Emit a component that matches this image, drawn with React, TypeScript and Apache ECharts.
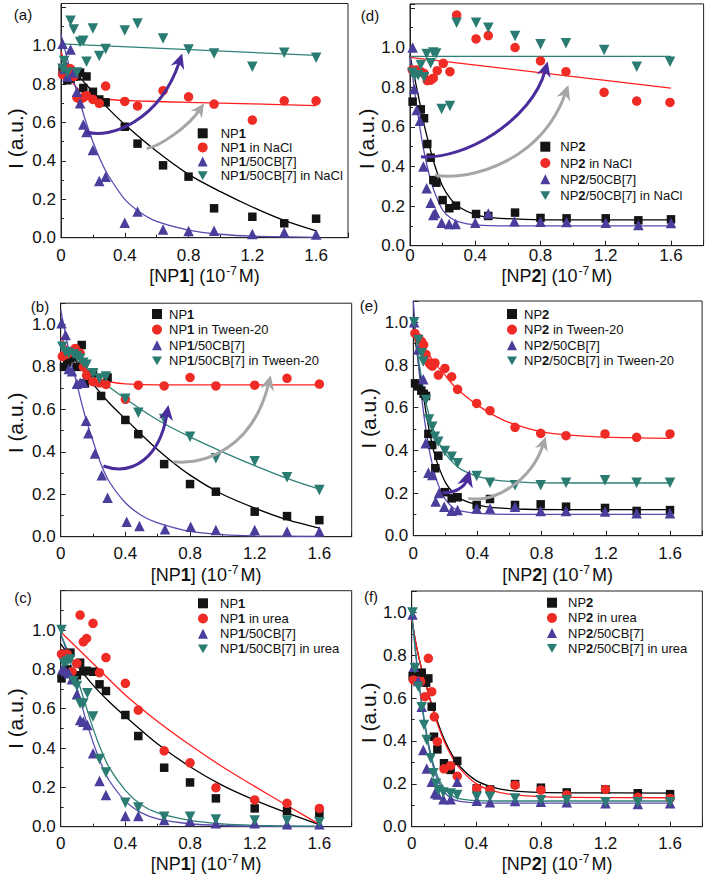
import React, { useEffect, useRef } from 'react';
import * as echarts from 'echarts';

const FONT = '"Liberation Sans", Arial, Helvetica, sans-serif';

// ---------- Panel (a): NP1, NaCl ----------
const aConc = [0.01, 0.02, 0.04, 0.06, 0.08, 0.1, 0.12, 0.14, 0.16, 0.2, 0.24, 0.28, 0.4, 0.48, 0.64, 0.8, 0.96, 1.2, 1.4, 1.6];
const aBlackY = [0.88, 0.87, 0.82, 0.83, 0.84, 0.84, 0.86, 0.78, 0.84, 0.76, 0.72, 0.705, 0.578, 0.49, 0.377, 0.318, 0.153, 0.109, 0.075, 0.099];
const aRedY = [0.85, 0.86, 0.88, 0.88, 0.84, 0.73, 0.72, 0.73, 0.74, 0.72, 0.7, 0.79, 0.71, 0.686, 0.766, 0.734, 0.696, 0.613, 0.713, 0.713];
const aPurpleY = [1.01, 0.88, 0.84, 0.98, 0.86, 0.76, 0.7, 0.59, 0.55, 0.457, 0.295, 0.318, 0.078, 0.137, 0.043, 0.035, 0.036, 0.019, 0.028, 0.017];
const aTealY = [0.88, 0.92, 0.86, 1.13, 1.085, 0.86, 1.02, 1.026, 0.917, 1.09, 0.946, 0.983, 1.08, 1.116, 1.038, 0.981, 0.96, 0.89, 0.964, 0.937];
const aFitBlackX = [0, 0.1, 0.2, 0.3, 0.4, 0.6, 0.8, 1.0, 1.2, 1.4, 1.6];
const aFitBlackY = [0.94, 0.85, 0.76, 0.67, 0.59, 0.45, 0.33, 0.24, 0.16, 0.09, 0.035];
const aFitRedX = [0, 0.04, 0.08, 0.12, 0.16, 0.2, 0.3, 0.5, 0.8, 1.2, 1.6];
const aFitRedY = [0.97, 0.87, 0.8, 0.765, 0.745, 0.735, 0.72, 0.712, 0.705, 0.697, 0.688];
const aFitPurpleX = [0, 0.05, 0.1, 0.15, 0.2, 0.25, 0.3, 0.4, 0.5, 0.6, 0.8, 1.0, 1.2, 1.6];
const aFitPurpleY = [1.06, 0.9, 0.76, 0.62, 0.5, 0.4, 0.32, 0.2, 0.13, 0.085, 0.04, 0.018, 0.008, 0.002];
const aFitTealX = [0, 1.6];
const aFitTealY = [1.01, 0.95];

// ---------- Panel (d): NP2, NaCl ----------
const dBlackX = [0.016, 0.066, 0.086, 0.106, 0.127, 0.143, 0.162, 0.2, 0.241, 0.282, 0.405, 0.48, 0.644, 0.8, 0.96, 1.2, 1.4, 1.6];
const dBlackY = [0.727, 0.688, 0.643, 0.513, 0.444, 0.331, 0.318, 0.23, 0.189, 0.202, 0.16, 0.15, 0.167, 0.14, 0.138, 0.138, 0.128, 0.133];
const dRedX = [0.014, 0.04, 0.066, 0.086, 0.106, 0.127, 0.143, 0.167, 0.204, 0.245, 0.286, 0.405, 0.48, 0.644, 0.8, 0.956, 1.19, 1.39, 1.594];
const dRedY = [0.887, 0.887, 0.878, 0.87, 0.833, 0.835, 0.845, 0.883, 0.92, 0.878, 1.164, 1.043, 1.06, 1.0, 0.932, 0.878, 0.774, 0.73, 0.723];
const dPurpleX = [0.016, 0.025, 0.041, 0.061, 0.082, 0.102, 0.127, 0.143, 0.155, 0.194, 0.24, 0.28, 0.4, 0.48, 0.64, 0.8, 0.96, 1.2, 1.4, 1.6];
const dPurpleY = [1.0, 0.79, 0.685, 0.63, 0.4, 0.29, 0.217, 0.155, 0.165, 0.116, 0.11, 0.11, 0.116, 0.163, 0.123, 0.121, 0.12, 0.116, 0.104, 0.115];
const dTealX = [0.014, 0.03, 0.05, 0.066, 0.086, 0.102, 0.127, 0.143, 0.16, 0.194, 0.245, 0.286, 0.405, 0.48, 0.644, 0.8, 0.956, 1.19, 1.39, 1.594];
const dTealY = [0.873, 0.86, 0.86, 0.912, 0.85, 0.967, 0.92, 0.975, 0.97, 0.69, 0.705, 1.125, 1.125, 1.1, 1.058, 1.016, 1.021, 0.987, 0.903, 0.928];
const dFitBlackX = [0, 0.03, 0.06, 0.09, 0.12, 0.15, 0.2, 0.25, 0.3, 0.4, 0.5, 0.7, 1.0, 1.6];
const dFitBlackY = [0.96, 0.84, 0.72, 0.6, 0.5, 0.41, 0.3, 0.235, 0.195, 0.157, 0.142, 0.133, 0.13, 0.13];
const dFitRedX = [0, 1.6];
const dFitRedY = [0.95, 0.795];
const dFitPurpleX = [0, 0.02, 0.04, 0.06, 0.08, 0.1, 0.13, 0.16, 0.2, 0.25, 0.3, 0.4, 0.6, 1.0, 1.6];
const dFitPurpleY = [0.95, 0.83, 0.71, 0.6, 0.5, 0.42, 0.32, 0.25, 0.18, 0.14, 0.12, 0.105, 0.1, 0.1, 0.1];
const dFitTealX = [0, 1.6];
const dFitTealY = [0.955, 0.955];

// ---------- Panel (b): NP1, Tween-20 ----------
const bBlackX = [0.02, 0.04, 0.06, 0.08, 0.1, 0.13, 0.15, 0.2, 0.25, 0.29, 0.4, 0.48, 0.64, 0.8, 0.96, 1.2, 1.4, 1.6];
const bBlackY = [0.8, 0.82, 0.84, 0.85, 0.8, 0.903, 0.722, 0.77, 0.663, 0.75, 0.55, 0.483, 0.342, 0.248, 0.212, 0.118, 0.097, 0.078];
const bRedX = [0.01, 0.02, 0.04, 0.06, 0.09, 0.12, 0.14, 0.16, 0.2, 0.24, 0.28, 0.4, 0.48, 0.64, 0.8, 0.96, 1.2, 1.4, 1.6];
const bRedY = [0.85, 0.855, 0.86, 0.87, 0.887, 0.865, 0.8, 0.76, 0.73, 0.725, 0.717, 0.647, 0.714, 0.71, 0.75, 0.71, 0.714, 0.746, 0.719];
const bPurpleX = [0.005, 0.03, 0.05, 0.07, 0.1, 0.12, 0.14, 0.157, 0.171, 0.212, 0.254, 0.29, 0.408, 0.487, 0.645, 0.804, 0.96, 1.2, 1.4, 1.6];
const bPurpleY = [1.005, 0.95, 0.79, 0.78, 0.72, 0.725, 0.725, 0.546, 0.487, 0.392, 0.29, 0.184, 0.07, 0.05, 0.035, 0.047, 0.031, 0.031, 0.025, 0.024];
const bTealX = [0.01, 0.03, 0.05, 0.08, 0.1, 0.12, 0.14, 0.16, 0.2, 0.24, 0.28, 0.4, 0.48, 0.64, 0.8, 0.96, 1.2, 1.4, 1.6];
const bTealY = [0.895, 0.87, 0.865, 0.86, 0.85, 0.84, 0.82, 0.81, 0.77, 0.745, 0.755, 0.65, 0.584, 0.554, 0.471, 0.369, 0.356, 0.28, 0.22];
const bFitBlackX = [0, 0.1, 0.2, 0.3, 0.4, 0.6, 0.8, 1.0, 1.2, 1.4, 1.6];
const bFitBlackY = [0.92, 0.82, 0.72, 0.63, 0.555, 0.41, 0.29, 0.2, 0.135, 0.08, 0.04];
const bFitRedX = [0, 0.05, 0.1, 0.15, 0.2, 0.25, 0.3, 0.4, 0.6, 1.0, 1.6];
const bFitRedY = [0.94, 0.88, 0.83, 0.79, 0.76, 0.74, 0.73, 0.72, 0.715, 0.715, 0.715];
const bFitPurpleX = [0, 0.05, 0.1, 0.15, 0.2, 0.25, 0.3, 0.4, 0.5, 0.6, 0.8, 1.0, 1.2, 1.6];
const bFitPurpleY = [1.07, 0.88, 0.72, 0.57, 0.45, 0.34, 0.26, 0.16, 0.1, 0.065, 0.025, 0.01, 0.004, 0.001];
const bFitTealX = [0, 0.1, 0.2, 0.3, 0.4, 0.6, 0.8, 1.0, 1.2, 1.4, 1.6];
const bFitTealY = [0.9, 0.83, 0.765, 0.705, 0.65, 0.55, 0.47, 0.4, 0.335, 0.275, 0.224];

// ---------- Panel (e): NP2, Tween-20 ----------
const eBlackX = [0.011, 0.031, 0.05, 0.065, 0.079, 0.094, 0.118, 0.137, 0.156, 0.197, 0.239, 0.276, 0.395, 0.478, 0.634, 0.794, 0.952, 1.195, 1.392, 1.6];
const eBlackY = [0.714, 0.7, 0.68, 0.665, 0.655, 0.477, 0.425, 0.316, 0.375, 0.204, 0.175, 0.18, 0.144, 0.172, 0.144, 0.147, 0.136, 0.13, 0.116, 0.12];
const eRedX = [0.01, 0.035, 0.052, 0.064, 0.079, 0.098, 0.11, 0.118, 0.135, 0.156, 0.197, 0.239, 0.276, 0.395, 0.478, 0.634, 0.794, 0.952, 1.195, 1.392, 1.6];
const eRedY = [0.948, 0.925, 0.91, 0.894, 0.85, 0.81, 0.8, 0.795, 0.81, 0.753, 0.784, 0.745, 0.686, 0.62, 0.586, 0.508, 0.48, 0.469, 0.477, 0.461, 0.477];
const ePurpleX = [0.005, 0.03, 0.062, 0.077, 0.094, 0.118, 0.139, 0.16, 0.193, 0.239, 0.276, 0.395, 0.478, 0.634, 0.794, 0.952, 1.195, 1.392, 1.6];
const ePurpleY = [1.0, 0.873, 0.733, 0.433, 0.295, 0.284, 0.16, 0.2, 0.136, 0.117, 0.12, 0.128, 0.128, 0.136, 0.116, 0.116, 0.113, 0.105, 0.105];
const eTealX = [0.005, 0.031, 0.052, 0.062, 0.079, 0.098, 0.118, 0.135, 0.156, 0.197, 0.239, 0.276, 0.395, 0.478, 0.634, 0.794, 0.952, 1.195, 1.392, 1.6];
const eTealY = [1.0, 0.917, 0.855, 0.816, 0.636, 0.545, 0.511, 0.464, 0.44, 0.397, 0.37, 0.339, 0.28, 0.248, 0.237, 0.237, 0.248, 0.26, 0.248, 0.248];
const eFitBlackX = [0, 0.03, 0.06, 0.09, 0.12, 0.15, 0.2, 0.25, 0.3, 0.4, 0.5, 0.7, 1.0, 1.6];
const eFitBlackY = [0.98, 0.82, 0.67, 0.53, 0.42, 0.34, 0.25, 0.2, 0.17, 0.145, 0.132, 0.124, 0.122, 0.122];
const eFitRedX = [0, 0.05, 0.1, 0.15, 0.2, 0.25, 0.3, 0.4, 0.5, 0.6, 0.8, 1.0, 1.2, 1.6];
const eFitRedY = [0.96, 0.9, 0.845, 0.795, 0.75, 0.705, 0.67, 0.612, 0.565, 0.53, 0.487, 0.47, 0.462, 0.456];
const eFitPurpleX = [0, 0.02, 0.04, 0.06, 0.08, 0.1, 0.13, 0.16, 0.2, 0.25, 0.3, 0.4, 0.6, 1.0, 1.6];
const eFitPurpleY = [1.1, 0.9, 0.74, 0.6, 0.49, 0.4, 0.3, 0.23, 0.17, 0.13, 0.115, 0.105, 0.1, 0.1, 0.1];
const eFitTealX = [0, 0.02, 0.04, 0.06, 0.08, 0.1, 0.12, 0.15, 0.2, 0.25, 0.3, 0.4, 0.5, 0.7, 1.0, 1.6];
const eFitTealY = [1.02, 0.9, 0.79, 0.7, 0.62, 0.56, 0.51, 0.45, 0.385, 0.34, 0.31, 0.278, 0.262, 0.25, 0.247, 0.247];

// ---------- Panel (c): NP1, urea ----------
const cBlackX = [0.005, 0.04, 0.06, 0.08, 0.1, 0.12, 0.14, 0.16, 0.2, 0.24, 0.28, 0.4, 0.48, 0.64, 0.8, 0.96, 1.2, 1.4, 1.6];
const cBlackY = [0.754, 0.8, 0.885, 0.763, 0.77, 0.834, 0.79, 0.793, 0.788, 0.724, 0.69, 0.568, 0.461, 0.3, 0.225, 0.144, 0.093, 0.08, 0.068];
const cRedX = [0.005, 0.04, 0.07, 0.1, 0.12, 0.14, 0.16, 0.2, 0.24, 0.28, 0.4, 0.48, 0.64, 0.8, 0.96, 1.2, 1.4, 1.6];
const cRedY = [0.878, 0.878, 0.788, 0.83, 1.076, 0.94, 0.957, 1.034, 0.783, 0.86, 0.729, 0.593, 0.386, 0.325, 0.198, 0.136, 0.119, 0.093];
const cPurpleX = [0.01, 0.03, 0.05, 0.07, 0.1, 0.12, 0.14, 0.165, 0.2, 0.24, 0.28, 0.4, 0.48, 0.64, 0.8, 0.96, 1.2, 1.4, 1.6];
const cPurpleY = [0.8, 0.79, 0.78, 0.75, 0.673, 0.542, 0.534, 0.517, 0.373, 0.232, 0.161, 0.054, 0.054, 0.034, 0.029, 0.017, 0.017, 0.012, 0.012];
const cTealX = [0.005, 0.02, 0.04, 0.06, 0.08, 0.1, 0.12, 0.14, 0.165, 0.2, 0.24, 0.28, 0.4, 0.48, 0.64, 0.8, 0.96, 1.2, 1.4, 1.6];
const cTealY = [1.0, 0.83, 0.84, 0.85, 0.74, 0.715, 0.627, 0.627, 0.678, 0.56, 0.344, 0.275, 0.122, 0.097, 0.051, 0.051, 0.037, 0.031, 0.031, 0.022];
const cFitBlackX = [0, 0.1, 0.2, 0.3, 0.4, 0.6, 0.8, 1.0, 1.2, 1.4, 1.6];
const cFitBlackY = [0.93, 0.82, 0.72, 0.635, 0.56, 0.42, 0.305, 0.21, 0.135, 0.07, 0.01];
const cFitRedX = [0, 0.2, 0.4, 0.6, 0.8, 1.0, 1.2, 1.4, 1.6];
const cFitRedY = [0.99, 0.83, 0.67, 0.535, 0.415, 0.305, 0.205, 0.108, 0.012];
const cFitPurpleX = [0, 0.05, 0.1, 0.15, 0.2, 0.25, 0.3, 0.4, 0.5, 0.6, 0.8, 1.0, 1.2, 1.6];
const cFitPurpleY = [0.98, 0.86, 0.71, 0.56, 0.43, 0.32, 0.235, 0.13, 0.07, 0.04, 0.015, 0.006, 0.003, 0.001];
const cFitTealX = [0, 0.05, 0.1, 0.15, 0.2, 0.25, 0.3, 0.4, 0.5, 0.6, 0.8, 1.0, 1.2, 1.6];
const cFitTealY = [0.98, 0.88, 0.76, 0.63, 0.5, 0.39, 0.3, 0.185, 0.11, 0.07, 0.032, 0.014, 0.007, 0.002];

// ---------- Panel (f): NP2, urea ----------
const fBlackX = [0.006, 0.041, 0.062, 0.089, 0.103, 0.124, 0.138, 0.159, 0.2, 0.241, 0.282, 0.403, 0.485, 0.64, 0.8, 0.96, 1.2, 1.4, 1.6];
const fBlackY = [0.703, 0.708, 0.719, 0.672, 0.692, 0.56, 0.42, 0.361, 0.296, 0.265, 0.307, 0.179, 0.174, 0.199, 0.182, 0.16, 0.174, 0.156, 0.152];
const fRedX = [0.01, 0.04, 0.056, 0.082, 0.103, 0.124, 0.14, 0.159, 0.2, 0.241, 0.282, 0.403, 0.485, 0.64, 0.8, 0.96, 1.2, 1.4, 1.6];
const fRedY = [0.685, 0.68, 0.677, 0.607, 0.786, 0.63, 0.513, 0.397, 0.27, 0.285, 0.236, 0.179, 0.171, 0.194, 0.171, 0.148, 0.174, 0.137, 0.132];
const fPurpleX = [0.005, 0.014, 0.04, 0.062, 0.072, 0.093, 0.124, 0.144, 0.16, 0.196, 0.241, 0.282, 0.403, 0.485, 0.64, 0.8, 0.96, 1.2, 1.4, 1.6];
const fPurpleY = [0.99, 0.747, 0.68, 0.56, 0.358, 0.272, 0.21, 0.156, 0.15, 0.128, 0.128, 0.21, 0.121, 0.114, 0.12, 0.117, 0.114, 0.109, 0.106, 0.109];
const fTealX = [0.005, 0.02, 0.041, 0.062, 0.076, 0.093, 0.118, 0.134, 0.15, 0.165, 0.196, 0.241, 0.282, 0.403, 0.485, 0.64, 0.8, 0.96, 1.2, 1.4, 1.6];
const fTealY = [1.0, 0.739, 0.653, 0.557, 0.475, 0.405, 0.319, 0.249, 0.2, 0.17, 0.16, 0.155, 0.148, 0.14, 0.14, 0.132, 0.124, 0.124, 0.114, 0.114, 0.114];
const fFitX = [0, 0.03, 0.06, 0.09, 0.12, 0.15, 0.2, 0.25, 0.3, 0.4, 0.5, 0.6, 0.8, 1.0, 1.6];
const fFitBlackY = [0.97, 0.84, 0.74, 0.66, 0.58, 0.51, 0.41, 0.335, 0.28, 0.215, 0.185, 0.17, 0.16, 0.158, 0.157];
const fFitRedY = [0.97, 0.84, 0.74, 0.655, 0.575, 0.5, 0.4, 0.325, 0.27, 0.2, 0.168, 0.152, 0.14, 0.137, 0.135];
const fFitCbX = [0, 0.02, 0.04, 0.06, 0.08, 0.1, 0.12, 0.15, 0.2, 0.25, 0.3, 0.4, 0.6, 1.0, 1.6];
const fFitPurpleY = [1.0, 0.84, 0.7, 0.58, 0.48, 0.39, 0.32, 0.24, 0.165, 0.13, 0.118, 0.111, 0.11, 0.11, 0.11];
const fFitTealY = [1.0, 0.845, 0.71, 0.59, 0.49, 0.405, 0.335, 0.255, 0.18, 0.145, 0.13, 0.122, 0.12, 0.12, 0.12];

// ---------- Axis ticks ----------
const xTickStep = 0.4;
const yTickStep = 0.2;

// ---------- Styles ----------
const C_BLACK = '#141414';
const C_RED = '#ee2b24';
const C_PURPLE = '#4a3e9c';
const C_TEAL = '#2a7b72';
const L_BLACK = '#000000';
const L_RED = '#ff1f1f';
const L_PURPLE = '#574cae';
const L_TEAL = '#2e8077';
const A_PURPLE = '#4a2d9c';
const A_GRAY = '#a6a6a6';
const DOWN_TRI = 'path://M0,0L10,0L5,8.7Z';

const zip = (xs: number[], ys: number[]) => xs.map((x, i) => [x, ys[i]]);

type Panel = {
  key: string; np: string; solvent: string;
  grid: { left: number; top: number; width: number; height: number };
  ymax: number; xLabelMargin: number; xNameGap: number; yNameGap: number; yNameShift: number;
  legend: { left: number; top: number; gap: number; pad: number };
  letter: [number, number];
  pts: [number[], number[]][];
  fits: [number[], number[]][];
  arrows: { pts: number[][]; color: string; head: number }[];
};

const panels: Panel[] = [
  {
    key: 'a', np: '1', solvent: 'NaCl',
    grid: { left: 61, top: 3.5, width: 287, height: 234.2 }, ymax: 1.22,
    xLabelMargin: 9, xNameGap: 24.6, yNameGap: 35.5, yNameShift: 18,
    legend: { left: 197.7, top: 126.3, gap: 0.1, pad: 8 }, letter: [23, 14],
    pts: [[aConc, aBlackY], [aConc, aRedY], [aConc, aPurpleY], [aConc, aTealY]],
    fits: [[aFitBlackX, aFitBlackY], [aFitRedX, aFitRedY], [aFitPurpleX, aFitPurpleY], [aFitTealX, aFitTealY]],
    arrows: [
      { pts: [[0.157, 0.552], [0.307, 0.509], [0.621, 0.613], [0.76, 0.96]], color: A_PURPLE, head: 15 },
      { pts: [[0.538, 0.465], [0.62, 0.475], [0.8, 0.58], [0.897, 0.701]], color: A_GRAY, head: 14 },
    ],
  },
  {
    key: 'd', np: '2', solvent: 'NaCl',
    grid: { left: 410, top: 3.9, width: 293.6, height: 241.8 }, ymax: 1.22,
    xLabelMargin: 1, xNameGap: 15, yNameGap: 29.5, yNameShift: 14,
    legend: { left: 540.3, top: 139.7, gap: 2.3, pad: 5 }, letter: [370, 15],
    pts: [[dBlackX, dBlackY], [dRedX, dRedY], [dPurpleX, dPurpleY], [dTealX, dTealY]],
    fits: [[dFitBlackX, dFitBlackY], [dFitRedX, dFitRedY], [dFitPurpleX, dFitPurpleY], [dFitTealX, dFitTealY]],
    arrows: [
      { pts: [[0.067, 0.449], [0.337, 0.432], [0.746, 0.634], [0.844, 0.929]], color: A_PURPLE, head: 15 },
      { pts: [[0.153, 0.357], [0.378, 0.323], [0.807, 0.432], [0.971, 0.811]], color: A_GRAY, head: 15 },
    ],
  },
  {
    key: 'b', np: '1', solvent: 'Tween-20',
    grid: { left: 60.7, top: 303.2, width: 291, height: 233.5 }, ymax: 1.1,
    xLabelMargin: 8.5, xNameGap: 27.3, yNameGap: 35, yNameShift: 3,
    legend: { left: 152, top: 307, gap: 1.6, pad: 2 }, letter: [40, 306],
    pts: [[bBlackX, bBlackY], [bRedX, bRedY], [bPurpleX, bPurpleY], [bTealX, bTealY]],
    fits: [[bFitBlackX, bFitBlackY], [bFitRedX, bFitRedY], [bFitPurpleX, bFitPurpleY], [bFitTealX, bFitTealY]],
    arrows: [
      { pts: [[0.264, 0.333], [0.449, 0.283], [0.614, 0.377], [0.666, 0.62]], color: A_PURPLE, head: 15 },
      { pts: [[0.697, 0.353], [0.903, 0.338], [1.19, 0.424], [1.299, 0.761]], color: A_GRAY, head: 15 },
    ],
  },
  {
    key: 'e', np: '2', solvent: 'Tween-20',
    grid: { left: 413.3, top: 301, width: 288.8, height: 234.7 }, ymax: 1.1,
    xLabelMargin: 9.5, xNameGap: 28.3, yNameGap: 34.5, yNameShift: 0,
    legend: { left: 507, top: 307, gap: 1.6, pad: 2 }, letter: [369, 305],
    pts: [[eBlackX, eBlackY], [eRedX, eRedY], [ePurpleX, ePurpleY], [eTealX, eTealY]],
    fits: [[eFitBlackX, eFitBlackY], [eFitRedX, eFitRedY], [eFitPurpleX, eFitPurpleY], [eFitTealX, eFitTealY]],
    arrows: [
      { pts: [[0.181, 0.202], [0.26, 0.198], [0.322, 0.23], [0.353, 0.308]], color: A_PURPLE, head: 17 },
      { pts: [[0.343, 0.175], [0.509, 0.152], [0.738, 0.261], [0.825, 0.464]], color: A_GRAY, head: 14 },
    ],
  },
  {
    key: 'c', np: '1', solvent: 'urea',
    grid: { left: 60.7, top: 590.7, width: 291, height: 236 }, ymax: 1.2,
    xLabelMargin: 8.5, xNameGap: 19, yNameGap: 35, yNameShift: 10,
    legend: { left: 198, top: 596.3, gap: 1.2, pad: 7 }, letter: [23, 597],
    pts: [[cBlackX, cBlackY], [cRedX, cRedY], [cPurpleX, cPurpleY], [cTealX, cTealY]],
    fits: [[cFitBlackX, cFitBlackY], [cFitRedX, cFitRedY], [cFitPurpleX, cFitPurpleY], [cFitTealX, cFitTealY]],
    arrows: [],
  },
  {
    key: 'f', np: '2', solvent: 'urea',
    grid: { left: 411.7, top: 591, width: 290.7, height: 235.7 }, ymax: 1.1,
    xLabelMargin: 8.5, xNameGap: 17.3, yNameGap: 33, yNameShift: 4,
    legend: { left: 547, top: 595.7, gap: 1.2, pad: 6 }, letter: [371, 596],
    pts: [[fBlackX, fBlackY], [fRedX, fRedY], [fPurpleX, fPurpleY], [fTealX, fTealY]],
    fits: [[fFitX, fFitBlackY], [fFitX, fFitRedY], [fFitCbX, fFitPurpleY], [fFitCbX, fFitTealY]],
    arrows: [],
  },
];

const markerStyles = [
  { symbol: 'rect', size: 8.5, color: C_BLACK, icon: 'rect' },
  { symbol: 'circle', size: 9.5, color: C_RED, icon: 'circle' },
  { symbol: 'triangle', size: 10.5, color: C_PURPLE, icon: 'triangle' },
  { symbol: DOWN_TRI, size: 10.5, color: C_TEAL, icon: DOWN_TRI },
];
const fitColors = [L_BLACK, L_RED, L_PURPLE, L_TEAL];

function seriesNames(p: Panel) {
  return [
    `${p.key}|NP${p.np}`,
    `${p.key}|NP${p.np} in ${p.solvent}`,
    `${p.key}|NP${p.np}/50CB[7]`,
    `${p.key}|NP${p.np}/50CB[7] in ${p.solvent}`,
  ];
}

function buildOption() {
  const grid: any[] = [];
  const xAxis: any[] = [];
  const yAxis: any[] = [];
  const series: any[] = [];
  const legend: any[] = [];
  const graphic: any[] = [];

  panels.forEach((p, gi) => {
    grid.push({ ...p.grid, show: true, borderColor: '#222', borderWidth: 1, backgroundColor: 'transparent' });
    const axisCommon = {
      gridIndex: gi,
      axisLine: { lineStyle: { color: '#222', width: 1 } },
      axisTick: { inside: true, length: 5, lineStyle: { color: '#222' } },
      minorTick: { show: true, splitNumber: 2, length: 3, lineStyle: { color: '#222' } },
      splitLine: { show: false },
    };
    xAxis.push({
      ...axisCommon, type: 'value', min: 0, max: 1.8, interval: xTickStep,
      axisLabel: {
        fontSize: 17, fontFamily: FONT, color: '#111', margin: p.xLabelMargin,
        formatter: (v: number) => (v > 1.61 ? '' : v === 0 ? '0' : v.toFixed(1)),
      },
      name: `[NP{b|${p.np}}] (10{s|-7}M)`, nameLocation: 'middle', nameGap: p.xNameGap,
      nameTextStyle: {
        fontSize: 18, fontFamily: FONT, color: '#111', lineHeight: 22,
        rich: {
          b: { fontSize: 18, fontWeight: 'bold', fontFamily: FONT, color: '#111', lineHeight: 22 },
          s: { fontSize: 12, fontFamily: FONT, color: '#111', lineHeight: 8, verticalAlign: 'top', padding: [0, 2, 0, 1] },
        },
      },
    });
    yAxis.push({
      ...axisCommon, type: 'value', min: 0, max: p.ymax, interval: yTickStep,
      axisLabel: {
        fontSize: 17, fontFamily: FONT, color: '#111', margin: 5,
        formatter: (v: number) => (v > 1.01 ? '' : v.toFixed(1)),
      },
      name: 'I (a.u.)', nameLocation: 'middle', nameGap: p.yNameGap,
      nameTextStyle: { fontSize: 21, fontFamily: FONT, color: '#111', padding: [0, p.yNameShift * 2, 0, 0] },
    });

    const names = seriesNames(p);
    p.fits.forEach(([xs, ys], k) => {
      series.push({
        type: 'line', xAxisIndex: gi, yAxisIndex: gi, data: zip(xs, ys),
        showSymbol: false, smooth: 0.3, silent: true,
        lineStyle: { color: fitColors[k], width: 1.3 }, z: 2,
      });
    });
    p.pts.forEach(([xs, ys], k) => {
      const m = markerStyles[k];
      series.push({
        type: 'scatter', name: names[k], xAxisIndex: gi, yAxisIndex: gi, data: zip(xs, ys),
        symbol: m.symbol, symbolSize: m.size, itemStyle: { color: m.color, opacity: 1 }, z: 3,
      });
    });

    legend.push({
      orient: 'vertical', left: p.legend.left, top: p.legend.top, padding: 0,
      itemGap: p.legend.gap, itemWidth: 10, itemHeight: 10, selectedMode: false,
      data: names.map((n, k) => ({ name: n, icon: markerStyles[k].icon })),
      formatter: (name: string) => '{p| }' + name.split('|')[1].replace(/^NP(\d)/, 'NP{b|$1}'),
      textStyle: {
        fontSize: 13, fontFamily: FONT, color: '#111', lineHeight: 14,
        rich: {
          p: { width: p.legend.pad, fontSize: 13, lineHeight: 14 },
          b: { fontSize: 13, fontWeight: 'bold', fontFamily: FONT, color: '#111', lineHeight: 14 },
        },
      },
    });

    graphic.push({
      type: 'text', x: p.letter[0], y: p.letter[1], z: 100,
      style: { text: `(${p.key})`, fontSize: 15, fontFamily: FONT, fill: '#111', align: 'center', verticalAlign: 'middle' },
    });
  });

  return { animation: false, backgroundColor: '#ffffff', grid, xAxis, yAxis, series, legend, graphic };
}

function arrowElements(chart: any, gi: number, a: { pts: number[][]; color: string; head: number }) {
  const p = a.pts.map((pt) => chart.convertToPixel({ gridIndex: gi }, pt));
  const [p0, p1, p2, p3] = p;
  let dx = p3[0] - p2[0];
  let dy = p3[1] - p2[1];
  const len = Math.hypot(dx, dy) || 1;
  dx /= len; dy /= len;
  const nx = -dy, ny = dx;
  const L = a.head, W = a.head * 0.95;
  const base = [p3[0] - dx * L, p3[1] - dy * L];
  const notch = [p3[0] - dx * L * 0.7, p3[1] - dy * L * 0.7];
  const end = [p3[0] - dx * L * 0.6, p3[1] - dy * L * 0.6];
  return [
    {
      type: 'bezierCurve', z: 50, silent: true,
      shape: { x1: p0[0], y1: p0[1], cpx1: p1[0], cpy1: p1[1], cpx2: p2[0], cpy2: p2[1], x2: end[0], y2: end[1] },
      style: { stroke: a.color, lineWidth: 3, fill: 'none' },
    },
    {
      type: 'polygon', z: 51, silent: true,
      shape: { points: [[p3[0], p3[1]], [base[0] + nx * W / 2, base[1] + ny * W / 2], notch, [base[0] - nx * W / 2, base[1] - ny * W / 2]] },
      style: { fill: a.color },
    },
  ];
}

export default function App() {
  const ref = useRef<HTMLDivElement>(null);
  useEffect(() => {
    if (!ref.current) return;
    const chart = echarts.init(ref.current, undefined, { renderer: 'svg' });
    const option: any = buildOption();
    chart.setOption(option);
    const extra: any[] = [];
    panels.forEach((p, gi) => {
      p.arrows.forEach((a) => extra.push(...arrowElements(chart, gi, a)));
    });
    chart.setOption({ graphic: [...option.graphic, ...extra] });
    return () => chart.dispose();
  }, []);
  return (
    <div
      ref={ref}
      style={{ position: 'absolute', left: 0, top: 0, width: 714, height: 879, background: '#fff' }}
    />
  );
}
